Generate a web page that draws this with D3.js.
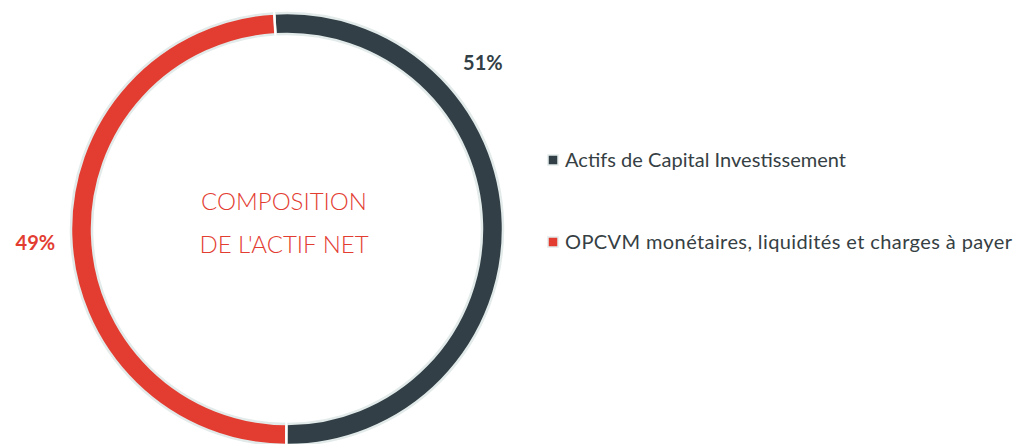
<!DOCTYPE html>
<html>
<head>
<meta charset="utf-8">
<script src="https://cdn.jsdelivr.net/npm/d3@7"></script>
<style>
  html, body { margin: 0; padding: 0; background: #fff; }
  svg { display: block; }
</style>
</head>
<body>
<svg id="chart"></svg>
<script>
// données
const categories = ["Actifs de Capital Investissement", "OPCVM monétaires, liquidités et charges à payer"];
const values = [51, 49];
const colors = ["#323f46", "#e33d32"];
// position du libellé le long de la part (0 = début, 1 = fin)
const labelPos = [0.289, 0.491];
const titleLines = ["COMPOSITION", "DE L'ACTIF NET"];

const width = 1016, height = 444;
const cx = 287, cy = 229;
const outerR = 216, innerR = 195;
const labelR = [257, 252];
const legendWidths = [281, 447];

const svg = d3.select("#chart").attr("width", width).attr("height", height);

const start = -3.4 * Math.PI / 180;
const pie = d3.pie()
  .sort(null)
  .value(d => d)
  .startAngle(start)
  .endAngle(2 * Math.PI + start);

const arcs = pie(values);

const arc = d3.arc().innerRadius(innerR).outerRadius(outerR);

const g = svg.append("g").attr("transform", `translate(${cx},${cy})`);

// anneau
g.selectAll("path.slice")
  .data(arcs)
  .join("path")
  .attr("class", "slice")
  .attr("d", arc)
  .attr("fill", (d, i) => colors[i])
  .attr("stroke", "#e2ebea")
  .attr("stroke-width", 2.5);

// petit espace blanc entre les parts
g.selectAll("line.sep")
  .data(arcs)
  .join("line")
  .attr("class", "sep")
  .attr("x1", d => Math.sin(d.startAngle) * (innerR - 3))
  .attr("y1", d => -Math.cos(d.startAngle) * (innerR - 3))
  .attr("x2", d => Math.sin(d.startAngle) * (outerR + 3))
  .attr("y2", d => -Math.cos(d.startAngle) * (outerR + 3))
  .attr("stroke", "#fff")
  .attr("stroke-width", 2);

// pourcentages
const labelAngle = (d, i) => d.startAngle + (d.endAngle - d.startAngle) * labelPos[i];
g.selectAll("text.pct")
  .data(arcs)
  .join("text")
  .attr("class", "pct")
  .attr("x", (d, i) => Math.sin(labelAngle(d, i)) * labelR[i])
  .attr("y", (d, i) => -Math.cos(labelAngle(d, i)) * labelR[i])
  .attr("dy", "0.36em")
  .attr("text-anchor", "middle")
  .attr("font-family", "Lato, sans-serif")
  .attr("font-weight", 700)
  .attr("font-size", 20)
  .attr("fill", (d, i) => colors[i])
  .text(d => d.data + "%");

// titre central
g.selectAll("text.title")
  .data(titleLines)
  .join("text")
  .attr("class", "title")
  .attr("x", -3)
  .attr("y", (d, i) => -28 + i * 43)
  .attr("dy", "0.36em")
  .attr("text-anchor", "middle")
  .attr("font-family", "Lato, sans-serif")
  .attr("font-weight", 300)
  .attr("font-size", 24)
  .attr("fill", "#e33d32")
  .text(d => d);

// légende
const legend = svg.append("g").attr("transform", "translate(548,160)");
const item = legend.selectAll("g")
  .data(categories)
  .join("g")
  .attr("transform", (d, i) => `translate(0,${i * 82})`);

item.append("rect")
  .attr("x", 0)
  .attr("y", -5)
  .attr("width", 10)
  .attr("height", 10)
  .attr("fill", (d, i) => colors[i])
  .attr("stroke", "#e2ebea")
  .attr("stroke-width", 1.5);

item.append("text")
  .attr("x", 17)
  .attr("dy", "0.35em")
  .attr("font-family", "Lato, sans-serif")
  .attr("font-size", 20)
  .attr("fill", "#363f44")
  .attr("textLength", (d, i) => legendWidths[i])
  .attr("lengthAdjust", "spacing")
  .text(d => d);
</script>
</body>
</html>
